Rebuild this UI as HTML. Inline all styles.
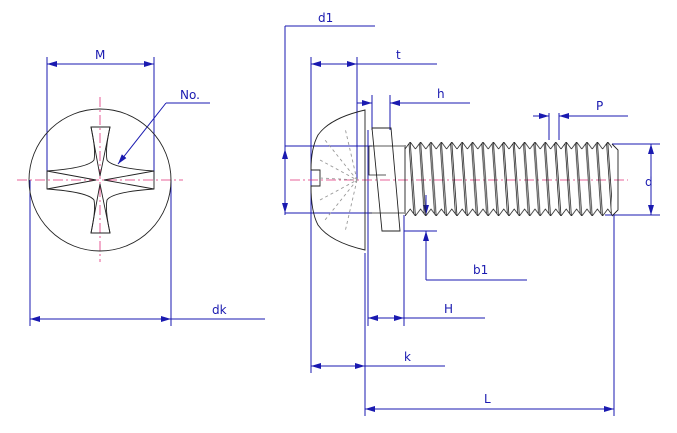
<!DOCTYPE html>
<html><head><meta charset="utf-8"><style>
html,body{margin:0;padding:0;background:#fff}
svg{display:block}
text{font-family:"DejaVu Sans","Liberation Sans",sans-serif;fill:#1a1ab0;font-size:12px}
</style></head><body>
<svg width="677" height="433" viewBox="0 0 677 433" xmlns="http://www.w3.org/2000/svg">
<defs>
<marker id="a" viewBox="0 0 10 6" refX="10" refY="3" markerWidth="10" markerHeight="6" orient="auto-start-reverse" markerUnits="userSpaceOnUse"><path d="M0,0 L10,3 L0,6 z" fill="#1a1ab0"/></marker>
<pattern id="th" x="405" y="142" width="10.4" height="74" patternUnits="userSpaceOnUse">
<path d="M0,7 L5.2,0 L10.4,7 M0,74 L5.2,67 L10.4,74 M5.2,0 L10.4,74 M0,74 L-5.2,0 M4,1.5 L8.8,72" fill="none" stroke="#222" stroke-width="0.8"/>
</pattern>
</defs>
<g fill="none" stroke="#1a1ab0" stroke-width="1">
<line x1="47" y1="57" x2="47" y2="180"/><line x1="154" y1="57" x2="154" y2="180"/>
<line x1="47" y1="64" x2="154" y2="64" marker-start="url(#a)" marker-end="url(#a)"/>
<line x1="210" y1="103" x2="166" y2="103"/><line x1="166" y1="103" x2="118" y2="164" marker-end="url(#a)"/>
<line x1="30" y1="180" x2="30" y2="326"/><line x1="171" y1="180" x2="171" y2="326"/>
<line x1="30" y1="319" x2="171" y2="319" marker-start="url(#a)" marker-end="url(#a)"/><line x1="171" y1="319" x2="265" y2="319"/>
<line x1="285" y1="26" x2="375" y2="26"/><line x1="285" y1="26" x2="285" y2="215"/>
<line x1="285" y1="146" x2="372" y2="146"/><line x1="285" y1="213" x2="372" y2="213"/>
<line x1="285" y1="149" x2="285" y2="213" marker-start="url(#a)" marker-end="url(#a)"/>
<line x1="311" y1="57" x2="311" y2="373"/><line x1="357" y1="57" x2="357" y2="180"/>
<line x1="311" y1="64" x2="357" y2="64" marker-start="url(#a)" marker-end="url(#a)"/><line x1="357" y1="64" x2="437" y2="64"/>
<line x1="372" y1="95" x2="372" y2="130"/><line x1="390" y1="95" x2="390" y2="130"/>
<line x1="357" y1="103" x2="372" y2="103" marker-end="url(#a)"/><line x1="470" y1="103" x2="390" y2="103" marker-end="url(#a)"/>
<line x1="549" y1="113" x2="549" y2="140"/><line x1="559" y1="113" x2="559" y2="140"/>
<line x1="533" y1="116" x2="549" y2="116" marker-end="url(#a)"/><line x1="628" y1="116" x2="559" y2="116" marker-end="url(#a)"/>
<line x1="612" y1="144" x2="660" y2="144"/><line x1="605" y1="215" x2="660" y2="215"/>
<line x1="651" y1="144" x2="651" y2="215" marker-start="url(#a)" marker-end="url(#a)"/>
<line x1="404" y1="231" x2="437" y2="231"/>
<line x1="426" y1="195" x2="426" y2="215" marker-end="url(#a)"/>
<line x1="426" y1="280" x2="426" y2="231" marker-end="url(#a)"/><line x1="426" y1="280" x2="527" y2="280"/>
<line x1="368" y1="130" x2="368" y2="326"/><line x1="404" y1="215" x2="404" y2="326"/>
<line x1="368" y1="318" x2="404" y2="318" marker-start="url(#a)" marker-end="url(#a)"/><line x1="404" y1="318" x2="485" y2="318"/>
<line x1="365" y1="253" x2="365" y2="416"/>
<line x1="311" y1="366" x2="365" y2="366" marker-start="url(#a)" marker-end="url(#a)"/><line x1="365" y1="366" x2="445" y2="366"/>
<line x1="614" y1="215" x2="614" y2="416"/>
<line x1="365" y1="409" x2="614" y2="409" marker-start="url(#a)" marker-end="url(#a)"/>
</g>
<g stroke="#e0307a" stroke-width="0.8" stroke-dasharray="10,3,2,3" fill="none">
<line x1="17" y1="180" x2="183" y2="180"/><line x1="100" y1="97" x2="100" y2="262"/>
<line x1="290" y1="180" x2="628" y2="180"/>
</g>
<g fill="none" stroke="#222" stroke-width="0.9">
<circle cx="100" cy="180" r="71"/>
<path d="M91,127 L110,127 Q105,150 107,160 Q112,168 154,171 L154,189 Q112,192 107,200 Q105,210 110,233 L91,233 Q96,210 94,200 Q88,192 47,189 L47,171 Q88,168 94,160 Q96,150 91,127 Z"/>
<path d="M91,127 L100,176 L110,127 M91,233 L100,184 L110,233 M47,171 L96,180 L47,189 M154,171 L104,180 L154,189"/>
<path d="M365,110 Q330,118 318,135 Q311,148 311,170 L320,170 L320,186 L311,186 Q311,212 318,225 Q330,242 365,250 Z"/>
<path d="M320,178 L357,180 M320,160 L357,180 L325,140 M357,180 L345,128 M357,180 L325,220 M357,180 L345,232 M320,200 L357,180" stroke="#999" stroke-dasharray="3,3"/>
<path d="M372,128 L391,128 L400,231 L382,231 Z"/>
<path d="M369,146 L404,146 M369,213 L404,213 M369,146 L369,175 L386,175" stroke-width="0.8"/>
<rect x="405" y="142" width="207" height="74" fill="url(#th)" stroke="none"/>
<path d="M405,145 L405,214 M612,144 L618,150 L618,210 L612,216"/>
</g>
<g>
<text x="95" y="59">M</text>
<text x="180" y="99">No.</text>
<text x="212" y="314">dk</text>
<text x="318" y="22">d1</text>
<text x="396" y="59">t</text>
<text x="437" y="98">h</text>
<text x="596" y="110">P</text>
<text x="645" y="186">d</text>
<text x="473" y="274">b1</text>
<text x="444" y="313">H</text>
<text x="404" y="361">k</text>
<text x="484" y="403">L</text>
</g>
</svg>
</body></html>
